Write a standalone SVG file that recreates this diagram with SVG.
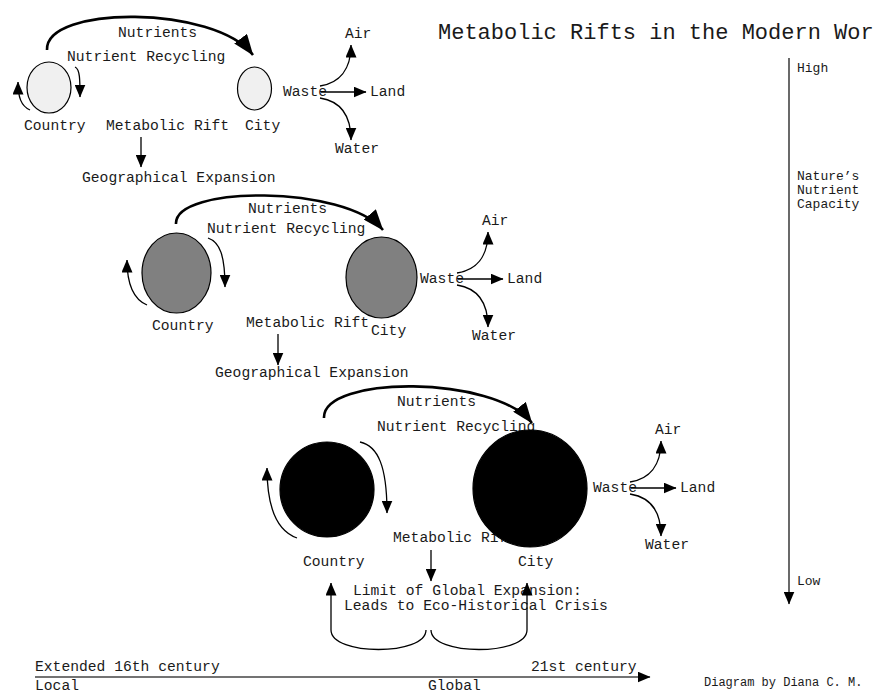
<svg xmlns="http://www.w3.org/2000/svg" width="877" height="694" viewBox="0 0 877 694">
<style>
text{font-family:"Liberation Mono","Courier New",monospace;font-size:14.67px;fill:#1a1a1a}
.title{font-size:22px}
.small{font-size:12px}
.side{font-size:13px}
.c{stroke:#000;stroke-width:1.3;fill:none}
.big{stroke:#000;stroke-width:2.6;fill:none}
.axis{stroke:#444;stroke-width:1.6;fill:none}
.n{stroke:#000;stroke-width:1.2}
</style>
<defs>
<marker id="a" viewBox="0 0 13 11" refX="12.5" refY="5.5" markerWidth="13" markerHeight="11" markerUnits="userSpaceOnUse" orient="auto"><path d="M0,0 L13,5.5 L0,11 z" fill="#000"/></marker>
<marker id="b" viewBox="0 0 21 16" refX="20.5" refY="8" markerWidth="21" markerHeight="16" markerUnits="userSpaceOnUse" orient="auto"><path d="M0,0 L21,8 L0,16 z" fill="#000"/></marker>
</defs>
<rect width="877" height="694" fill="#fff"/>
<g id="labels">
<text class="title" x="438" y="39">Metabolic Rifts in the Modern Wor</text>
<text x="118" y="37">Nutrients</text>
<text x="67" y="61">Nutrient Recycling</text>
<text x="106" y="130">Metabolic Rift</text>
<text x="82" y="182">Geographical Expansion</text>
<text x="248" y="213">Nutrients</text>
<text x="207" y="233">Nutrient Recycling</text>
<text x="246" y="327">Metabolic Rift</text>
<text x="215" y="377">Geographical Expansion</text>
<text x="397" y="406">Nutrients</text>
<text x="377" y="431">Nutrient Recycling</text>
<text x="393" y="542">Metabolic Rift</text>
<text x="353" y="595">Limit of Global Expansion:</text>
<text x="344" y="610">Leads to Eco-Historical Crisis</text>
<text class="side" x="797" y="72">High</text>
<text class="side" x="797" y="180">Nature’s</text>
<text class="side" x="797" y="194">Nutrient</text>
<text class="side" x="797" y="208">Capacity</text>
<text class="side" x="797" y="585">Low</text>
<text x="35" y="671">Extended 16th century</text>
<text x="531" y="671">21st century</text>
<text x="35" y="690">Local</text>
<text x="428" y="690">Global</text>
<text class="small" x="704" y="686">Diagram by Diana C. M.</text>
</g>
<g id="stage1">
<g id="country1"><ellipse class="n" cx="49" cy="87.5" rx="22" ry="25.5" fill="#f0f0f0"/><text x="24" y="130">Country</text></g>
<g id="city1"><ellipse class="n" cx="254.5" cy="88.5" rx="17" ry="21.5" fill="#f0f0f0"/><text x="245" y="130">City</text></g>
<g id="waste1" transform="translate(283,96)"><text x="0" y="0">Waste</text><text x="87" y="0">Land</text><text x="62" y="-58">Air</text><text x="52" y="57">Water</text></g>
</g>
<g id="stage2">
<g id="country2"><ellipse class="n" cx="176.5" cy="273" rx="34.5" ry="40" fill="#808080"/><text x="152" y="330">Country</text></g>
<g id="city2"><ellipse class="n" cx="381.5" cy="277.5" rx="35.5" ry="40.5" fill="#808080"/><text x="371" y="335">City</text></g>
<g id="waste2" transform="translate(420,283)"><text x="0" y="0">Waste</text><text x="87" y="0">Land</text><text x="62" y="-58">Air</text><text x="52" y="57">Water</text></g>
</g>
<g id="stage3">
<g id="country3"><ellipse class="n" cx="327" cy="489.5" rx="47" ry="47.5" fill="#000"/><text x="303" y="566">Country</text></g>
<g id="city3"><ellipse class="n" cx="530" cy="488.5" rx="57" ry="58.5" fill="#000"/><text x="518" y="566">City</text></g>
<g id="waste3" transform="translate(593,492)"><text x="0" y="0">Waste</text><text x="87" y="0">Land</text><text x="62" y="-58">Air</text><text x="52" y="57">Water</text></g>
</g>
<g id="connectors">
<path class="big" marker-end="url(#b)" d="M47,50 C45,5 215,5 253,55"/>
<path class="big" marker-end="url(#b)" d="M176,224 C174,185 345,185 383,230"/>
<path class="big" marker-end="url(#b)" d="M324,418 C322,375 495,375 532,423"/>
<path class="c" marker-end="url(#a)" d="M30,110 C21,106 18,97 18,82"/>
<path class="c" marker-end="url(#a)" d="M75,67 C80,69 80,80 80,97"/>
<path class="c" marker-end="url(#a)" d="M147,305 C135,300 127,288 127,260"/>
<path class="c" marker-end="url(#a)" d="M208,238 C220,242 225,256 225,287"/>
<path class="c" marker-end="url(#a)" d="M297,538 C280,532 267,512 267,468"/>
<path class="c" marker-end="url(#a)" d="M360,442 C378,446 387,466 387,513"/>
<path class="c" marker-end="url(#a)" d="M141,137 L141,167"/>
<path class="c" marker-end="url(#a)" d="M278,334 L278,365"/>
<path class="c" marker-end="url(#a)" d="M431,550 L431,581"/>
<path class="c" marker-end="url(#a)" d="M331,630 L331,583"/>
<path class="c" marker-end="url(#a)" d="M527,630 L527,583"/>
<path class="c" d="M331,630 C331,656 426,656 426,630"/>
<path class="c" d="M431,630 C431,656 527,656 527,630"/>
<g transform="translate(283,96)">
<path class="c" marker-end="url(#a)" d="M38,-4 L83,-4"/>
<path class="c" marker-end="url(#a)" d="M37,-10 C56,-13 68,-26 68,-51"/>
<path class="c" marker-end="url(#a)" d="M37,2 C56,5 68,18 68,44"/>
</g>
<g transform="translate(420,283)">
<path class="c" marker-end="url(#a)" d="M38,-4 L83,-4"/>
<path class="c" marker-end="url(#a)" d="M37,-10 C56,-13 68,-26 68,-51"/>
<path class="c" marker-end="url(#a)" d="M37,2 C56,5 68,18 68,44"/>
</g>
<g transform="translate(593,492)">
<path class="c" marker-end="url(#a)" d="M38,-4 L83,-4"/>
<path class="c" marker-end="url(#a)" d="M37,-10 C56,-13 68,-26 68,-51"/>
<path class="c" marker-end="url(#a)" d="M37,2 C56,5 68,18 68,44"/>
</g>
<path class="axis" marker-end="url(#a)" d="M789,58 L789,604"/>
<path class="axis" marker-end="url(#a)" d="M35,677 L650,677"/>
</g>
</svg>
